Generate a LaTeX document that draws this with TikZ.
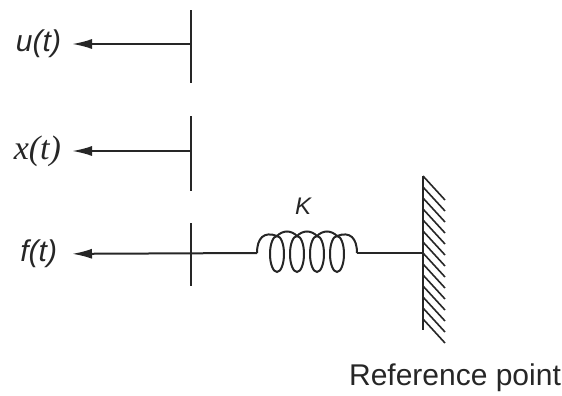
\documentclass[tikz,border=0pt]{standalone}
\usepackage{fontspec}
\setmainfont{Liberation Serif}
\setsansfont{Liberation Sans}
\usetikzlibrary{arrows.meta}
\tikzset{
  sig/.style={font=\sffamily\itshape\fontsize{15}{18}\selectfont,inner xsep=5pt},
  arr/.style={-{Latex[length=10pt,width=5pt]}},
  hatch/.style={line width=0.8pt}
}
\begin{document}
\begin{tikzpicture}[x=0.5pt,y=-0.5pt,line width=1pt,black!85]
\useasboundingbox (0,0) rectangle (562,396);
\coordinate (tu) at (191,44);
\coordinate (tx) at (191,151);
\coordinate (tf) at (191,254);
\coordinate (sa) at (257,253);
\coordinate (sb) at (357,253);
\coordinate (wa) at (423,176);
\coordinate (wb) at (423,330);
\coordinate (wc) at (423,253);
\node[sig,anchor=east] (lu) at (72,44) {u(t)};
\node[sig,font=\rmfamily\itshape\fontsize{17}{20}\selectfont,anchor=east] (lx) at (72,151) {x(t)};
\node[sig,inner xsep=7pt,anchor=east] (lf) at (72,254) {f(t)};
\node[font=\sffamily\itshape\fontsize{12}{14}\selectfont] (lk) at (303,206) {K};
\node[font=\sffamily\fontsize{15}{18}\selectfont] (lr) at (455,378) {Reference point};
\draw (191,10)--(191,83);
\draw[arr] (tu)--(lu);
\draw (191,116)--(191,191);
\draw[arr] (tx)--(lx);
\draw (191,223)--(191,286);
\draw[arr] (sa)--(lf);
\draw (sa) .. controls (257,238) and (264,231) .. (277,236);
\foreach \c in {277,297,317}
  \draw (\c,236) .. controls (\c+6,230) and (\c+14,230) .. (\c+20,236);
\draw (337,236) .. controls (350,231) and (357,238) .. (sb);
\foreach \c in {277,297,317,337}
  \draw (\c,254) ellipse [x radius=7,y radius=18];
\draw (sb)--(wc);
\draw (wa)--(wb);
\foreach \y in {176,187,...,320}
  \draw[hatch] (423,\y)--++(22,24);
\end{tikzpicture}
\end{document}
